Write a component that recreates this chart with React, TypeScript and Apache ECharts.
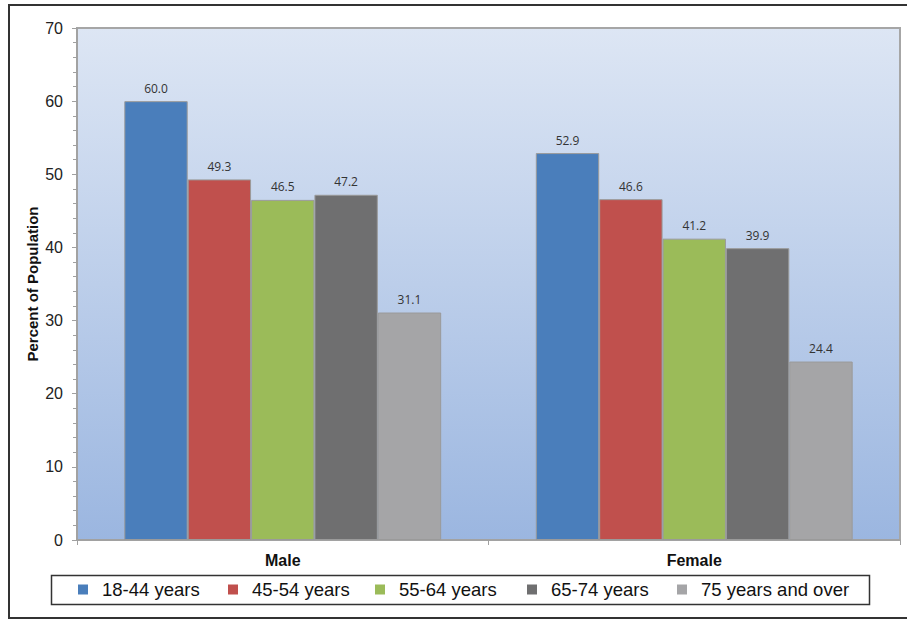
import React, { useEffect, useRef } from "react";
import * as echarts from "echarts";

const categories = ["Male", "Female"];
const seriesNames = ["18-44 years", "45-54 years", "55-64 years", "65-74 years", "75 years and over"];
const age18to44 = [60.0, 52.9];
const age45to54 = [49.3, 46.6];
const age55to64 = [46.5, 41.2];
const age65to74 = [47.2, 39.9];
const age75plus = [31.1, 24.4];
const seriesColors = ["#4a7ebb", "#c0504d", "#9bbb59", "#6f6f70", "#a5a5a7"];
const legendLefts = [78, 228, 375, 527, 677];

export default function App() {
  const ref = useRef<HTMLDivElement>(null);
  useEffect(() => {
    if (!ref.current) return;
    const chart = echarts.init(ref.current, undefined, { renderer: "svg" });
    const values = [age18to44, age45to54, age55to64, age65to74, age75plus];
    const option: any = {
      animation: false,
      backgroundColor: "#ffffff",
      textStyle: { fontFamily: "Liberation Sans, Arial, sans-serif" },
      grid: {
        left: 77,
        top: 28,
        right: 7,
        bottom: 80,
        show: true,
        borderColor: "#a6a6a6",
        borderWidth: 2,
        backgroundColor: new echarts.graphic.LinearGradient(0, 0, 0, 1, [
          { offset: 0, color: "#dde6f4" },
          { offset: 1, color: "#9bb6e0" },
        ]),
      },
      xAxis: {
        type: "category",
        data: categories,
        axisLine: { lineStyle: { color: "#a0a0a0", width: 1.5 } },
        axisTick: { show: true, length: 5, lineStyle: { color: "#a0a0a0" } },
        axisLabel: {
          margin: 12,
          color: "#111",
          fontWeight: "bold",
          fontSize: 16,
          fontFamily: "Liberation Sans, Arial, sans-serif",
        },
      },
      yAxis: {
        type: "value",
        min: 0,
        max: 70,
        interval: 10,
        name: "Percent of Population",
        nameLocation: "middle",
        nameGap: 37,
        nameMoveOverlap: false,
        nameTextStyle: {
          color: "#111",
          fontWeight: "bold",
          fontSize: 15,
          fontFamily: "Liberation Sans, Arial, sans-serif",
        },
        axisLine: { show: true, lineStyle: { color: "#a0a0a0", width: 1.5 } },
        axisTick: { show: true, length: 5, lineStyle: { color: "#a0a0a0" } },
        minorTick: { show: true, splitNumber: 5, length: 4, lineStyle: { color: "#a0a0a0" } },
        splitLine: { show: false },
        axisLabel: {
          margin: 14,
          color: "#222",
          fontSize: 16,
          fontFamily: "Liberation Sans, Arial, sans-serif",
        },
      },
      legend: seriesNames.map((name, i) => ({
        data: [name],
        left: legendLefts[i],
        top: 580,
        padding: 0,
        icon: "rect",
        itemWidth: 10,
        itemHeight: 10,
        itemStyle: { borderWidth: 0 },
        selectedMode: false,
        textStyle: {
          fontSize: 18.5,
          color: "#111",
          padding: [0, 0, 0, 9],
          fontFamily: "Liberation Sans, Arial, sans-serif",
        },
      })),
      graphic: [
        {
          type: "rect",
          z: 0,
          shape: { x: 51.5, y: 575.5, width: 818, height: 29 },
          style: { fill: "transparent", stroke: "#333", lineWidth: 1.5 },
        },
        {
          type: "rect",
          z: 0,
          shape: { x: 9, y: 5, width: 920, height: 613 },
          style: { fill: "transparent", stroke: "#333", lineWidth: 2 },
        },
      ],
      series: seriesNames.map((name, i) => ({
        name,
        type: "bar",
        data: values[i],
        barGap: "0%",
        barCategoryGap: "23%",
        itemStyle: { color: seriesColors[i], borderColor: "#9a9a9a", borderWidth: 1 },
        label: {
          show: true,
          position: "top",
          distance: 7,
          color: "#333",
          fontSize: 12,
          fontFamily: "Open Sans, Noto Sans, sans-serif",
          formatter: (p: any) => Number(p.value).toFixed(1),
        },
      })),
    };
    chart.setOption(option);
    return () => chart.dispose();
  }, []);
  return (
    <div
      ref={ref}
      style={{ position: "absolute", left: 0, top: 0, width: 907, height: 620 }}
    />
  );
}
